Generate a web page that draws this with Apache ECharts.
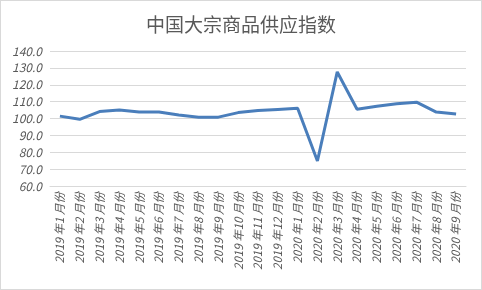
<!DOCTYPE html>
<html>
<head>
<meta charset="utf-8">
<script src="https://cdn.jsdelivr.net/npm/echarts@6/dist/echarts.min.js"></script>
<style>
  html, body { margin: 0; padding: 0; background: #fff; }
  #chart { width: 480px; height: 288px; border: 1px solid #d9d9d9; }
</style>
</head>
<body>
<div id="chart"></div>
<script>
// Monthly supply index of bulk commodities in China
const months = [
  '2019 年1 月份', '2019 年2 月份', '2019 年3 月份', '2019 年4 月份', '2019 年5 月份',
  '2019 年6 月份', '2019 年7 月份', '2019 年8 月份', '2019 年9 月份', '2019 年10 月份',
  '2019 年11 月份', '2019 年12 月份', '2020 年1 月份', '2020 年2 月份', '2020 年3 月份',
  '2020 年4 月份', '2020 年5 月份', '2020 年6 月份', '2020 年7 月份', '2020 年8 月份',
  '2020 年9 月份'
];
const supplyIndex = [
  101.4, 99.5, 104.1, 105.1, 103.8, 103.8, 102.1, 100.8, 100.8, 103.5,
  104.7, 105.4, 106.1, 74.8, 127.6, 105.5, 107.2, 108.7, 109.7, 103.8, 102.6
];
const yTicks = { min: 60, max: 140, step: 10 };

const textColor = '#595959';
const fontFamily = '"Microsoft YaHei", "Noto Sans CJK SC", sans-serif';

const chart = echarts.init(document.getElementById('chart'));
chart.setOption({
  animation: false,
  title: {
    text: '中国大宗商品供应指数',
    left: 'center',
    top: 9,
    textStyle: { color: textColor, fontSize: 19, fontWeight: 'normal', fontFamily }
  },
  grid: { left: 49, right: 15, top: 50, bottom: 103 },
  xAxis: {
    type: 'category',
    data: months,
    boundaryGap: true,
    axisLine: { lineStyle: { color: '#d9d9d9' } },
    axisTick: { show: false },
    axisLabel: {
      rotate: 90,
      interval: 0,
      margin: 6,
      color: textColor,
      fontSize: 11.5,
      fontStyle: 'italic',
      fontFamily
    }
  },
  yAxis: {
    type: 'value',
    min: yTicks.min,
    max: yTicks.max,
    interval: yTicks.step,
    axisLine: { show: false },
    axisTick: { show: false },
    splitLine: { lineStyle: { color: '#d9d9d9', width: 1 } },
    axisLabel: {
      formatter: v => v.toFixed(1),
      margin: 8,
      color: textColor,
      fontSize: 12,
      fontStyle: 'italic',
      fontFamily
    }
  },
  series: [{
    type: 'line',
    data: supplyIndex,
    symbol: 'none',
    lineStyle: { color: '#4a7ebb', width: 3 }
  }]
});
</script>
</body>
</html>
